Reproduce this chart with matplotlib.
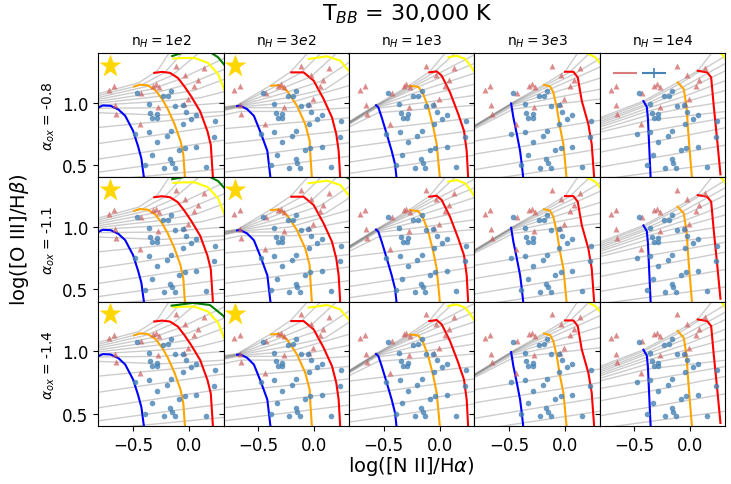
import numpy as np
import matplotlib
matplotlib.use('Agg')
import matplotlib.pyplot as plt
from matplotlib.lines import Line2D

# panel layout
densities = ['1e2', '3e2', '1e3', '3e3', '1e4']
alpha_ox = ['-0.8', '-1.1', '-1.4']

# observed galaxies (blue dots) and red triangles, same in every panel
obs_x = [-0.462, -0.235, -0.190, -0.161, -0.360, -0.123, -0.056, -0.346, -0.286, -0.328,
         -0.289, -0.027, 0.020, 0.065, -0.051, -0.161, -0.357, -0.480, -0.199, -0.286,
         0.065, -0.039, -0.087, -0.167, -0.152, -0.128, -0.223, -0.390, 0.149, 0.226,
         0.235, -0.333]
obs_y = [1.077, 1.053, 1.058, 1.098, 0.989, 0.975, 0.981, 0.921, 0.908, 0.881,
         0.881, 0.927, 0.873, 0.900, 0.832, 0.776, 0.768, 0.752, 0.733, 0.685,
         0.647, 0.639, 0.618, 0.545, 0.515, 0.477, 0.477, 0.497, 0.483, 0.723,
         0.849, 0.583]
tri_x = [-0.714, -0.667, -0.661, -0.652, -0.440, -0.429, -0.322, -0.297, -0.268, -0.274,
         -0.119, -0.033, -0.009, -0.048, 0.047, 0.080, 0.131]
tri_y = [1.106, 1.134, 0.981, 0.913, 0.827, 1.082, 1.136, 1.147, 1.123, 0.967,
         1.298, 1.223, 1.026, 0.989, 1.131, 1.179, 1.276]
star_x, star_y = -0.706, 1.298

# iso-metallicity tracks, one list per density column
blue_x = [[-0.80, -0.77, -0.70, -0.63, -0.57, -0.50, -0.455, -0.425, -0.40],
          [-0.69, -0.661, -0.60, -0.54, -0.48, -0.42, -0.39],
          [-0.569, -0.548, -0.518, -0.473, -0.429, -0.399, -0.384],
          [-0.482, -0.462, -0.431, -0.402, -0.387, -0.372],
          [-0.42, -0.39, -0.38, -0.369, -0.355]]
blue_y = [[0.965, 0.978, 0.975, 0.945, 0.895, 0.775, 0.65, 0.55, 0.38],
          [0.973, 0.975, 0.948, 0.894, 0.76, 0.612, 0.38],
          [0.98, 0.962, 0.881, 0.747, 0.612, 0.505, 0.38],
          [0.994, 0.881, 0.747, 0.612, 0.505, 0.38],
          [1.013, 0.967, 0.873, 0.658, 0.38]]
orange_x = [[-0.49, -0.44, -0.37, -0.30, -0.24, -0.19, -0.13, -0.075, -0.05, -0.035],
            [-0.387, -0.319, -0.244, -0.155, -0.081, -0.042, -0.036, -0.021],
            [-0.265, -0.191, -0.147, -0.102, -0.057, -0.027, 0.003],
            [-0.188, -0.134, -0.105, -0.074, -0.045, -0.015, 0.015],
            [-0.114, -0.06, -0.036, -0.015, 0.015]]
orange_y = [[1.13, 1.145, 1.14, 1.10, 1.03, 0.95, 0.83, 0.69, 0.58, 0.38],
            [1.136, 1.142, 1.096, 0.975, 0.827, 0.693, 0.585, 0.38],
            [1.136, 1.128, 1.069, 0.962, 0.80, 0.666, 0.38],
            [1.144, 1.131, 1.083, 0.962, 0.80, 0.666, 0.38],
            [1.164, 1.11, 0.975, 0.706, 0.38]]
red_x = [[-0.31, -0.24, -0.17, -0.10, -0.04, 0.02, 0.10, 0.165, 0.195, 0.215],
         [-0.206, -0.096, -0.006, 0.083, 0.158, 0.196, 0.217, 0.232],
         [-0.093, -0.027, 0.018, 0.092, 0.166, 0.217, 0.241, 0.255],
         [0.0, 0.074, 0.113, 0.149, 0.208, 0.238, 0.261],
         [0.065, 0.149, 0.185, 0.208, 0.238, 0.268]]
red_y = [[1.24, 1.248, 1.24, 1.20, 1.13, 1.05, 0.93, 0.77, 0.66, 0.38],
         [1.244, 1.244, 1.177, 1.029, 0.881, 0.747, 0.612, 0.38],
         [1.244, 1.252, 1.217, 1.083, 0.908, 0.773, 0.612, 0.38],
         [1.249, 1.249, 1.204, 1.015, 0.827, 0.666, 0.38],
         [1.257, 1.244, 1.204, 0.975, 0.706, 0.424]]
yellow_x = [[-0.14, -0.05, 0.05, 0.17, 0.26, 0.30, 0.34],
            [-0.051, 0.113, 0.232, 0.306, 0.34],
            [0.077, 0.152, 0.226, 0.264, 0.33],
            [0.15, 0.21, 0.27, 0.33],
            [0.26, 0.30, 0.34]]
yellow_y = [[1.355, 1.36, 1.36, 1.32, 1.23, 1.14, 1.05],
            [1.352, 1.373, 1.338, 1.257, 1.20],
            [1.365, 1.378, 1.352, 1.311, 1.22],
            [1.42, 1.392, 1.365, 1.30],
            [1.41, 1.37, 1.30]]
# green track: only reaches the first two columns, differs by row
green_x = {(0, 0): [-0.15, 0.0, 0.15, 0.26, 0.32],
           (1, 0): [-0.15, 0.0, 0.15, 0.26, 0.32],
           (2, 0): [-0.155, 0.038, 0.187, 0.306, 0.34],
           (0, 1): [0.12, 0.24, 0.32, 0.36],
           (1, 1): [0.12, 0.24, 0.32, 0.36],
           (2, 1): [0.14, 0.26, 0.34, 0.38]}
green_y = {(0, 0): [1.375, 1.42, 1.43, 1.365, 1.30],
           (1, 0): [1.385, 1.41, 1.42, 1.37, 1.31],
           (2, 0): [1.368, 1.39, 1.373, 1.287, 1.25],
           (0, 1): [1.45, 1.43, 1.39, 1.33],
           (1, 1): [1.44, 1.42, 1.385, 1.33],
           (2, 1): [1.45, 1.43, 1.39, 1.33]}

# iso-U grid lines per density column
gray_1e2 = [([-0.82, -0.45, -0.28, -0.17], [1.07, 1.16, 1.26, 1.41]),
            ([-0.82, -0.42, -0.22, -0.05], [1.055, 1.145, 1.24, 1.41]),
            ([-0.82, -0.38, -0.15, 0.10], [1.04, 1.13, 1.22, 1.41]),
            ([-0.82, -0.33, -0.08, 0.32], [1.025, 1.11, 1.19, 1.36]),
            ([-0.82, -0.30, 0.00, 0.32], [1.01, 1.08, 1.15, 1.27]),
            ([-0.82, -0.28, 0.05, 0.32], [0.995, 1.05, 1.10, 1.19]),
            ([-0.82, -0.27, 0.10, 0.32], [0.98, 1.01, 1.04, 1.09]),
            ([-0.82, -0.25, 0.32], [0.955, 0.96, 1.00]),
            ([-0.82, -0.25, 0.32], [0.92, 0.90, 0.93]),
            ([-0.82, 0.32], [0.80, 0.90]),
            ([-0.82, 0.32], [0.67, 0.82]),
            ([-0.82, 0.32], [0.545, 0.70]),
            ([-0.82, 0.32], [0.44, 0.58]),
            ([-0.60, 0.32], [0.39, 0.47])]
gray_3e2 = [([-0.82, -0.69, -0.39, -0.21, -0.05], [0.965, 0.98, 1.14, 1.25, 1.41]),
            ([-0.82, -0.69, -0.35, -0.12, 0.07], [0.96, 0.978, 1.13, 1.24, 1.41]),
            ([-0.82, -0.69, -0.30, -0.03, 0.20], [0.955, 0.975, 1.11, 1.21, 1.40]),
            ([-0.82, -0.69, -0.26, 0.05, 0.32], [0.95, 0.972, 1.08, 1.17, 1.33]),
            ([-0.82, -0.69, -0.24, 0.10, 0.32], [0.945, 0.97, 1.04, 1.11, 1.24]),
            ([-0.82, -0.69, -0.22, 0.32], [0.94, 0.965, 1.0, 1.14]),
            ([-0.82, -0.69, -0.20, 0.32], [0.935, 0.96, 0.96, 1.05]),
            ([-0.82, -0.66, -0.18, 0.32], [0.90, 0.93, 0.93, 0.96]),
            ([-0.82, 0.32], [0.79, 0.88]),
            ([-0.82, 0.32], [0.67, 0.78]),
            ([-0.82, 0.32], [0.545, 0.68]),
            ([-0.82, 0.32], [0.44, 0.57])]
gray_1e3 = [([-0.82, -0.57, -0.27, -0.09, 0.06], [0.84, 0.98, 1.14, 1.25, 1.41]),
            ([-0.82, -0.57, -0.25, -0.05, 0.15], [0.838, 0.978, 1.135, 1.245, 1.41]),
            ([-0.82, -0.57, -0.23, 0.0, 0.32], [0.835, 0.975, 1.13, 1.24, 1.39]),
            ([-0.82, -0.57, -0.21, 0.05, 0.32], [0.832, 0.972, 1.12, 1.22, 1.32]),
            ([-0.82, -0.57, -0.19, 0.32], [0.83, 0.968, 1.09, 1.24]),
            ([-0.82, -0.57, -0.17, 0.32], [0.826, 0.963, 1.05, 1.15]),
            ([-0.82, -0.57, -0.15, 0.32], [0.82, 0.955, 1.0, 1.06]),
            ([-0.82, -0.55, -0.12, 0.32], [0.80, 0.92, 0.95, 0.98]),
            ([-0.82, 0.32], [0.76, 0.88]),
            ([-0.82, 0.32], [0.64, 0.78]),
            ([-0.82, 0.32], [0.52, 0.68]),
            ([-0.82, 0.32], [0.43, 0.58])]
gray_3e3 = [([-0.82, -0.48, -0.19, 0.0, 0.12], [0.81, 0.995, 1.145, 1.25, 1.41]),
            ([-0.82, -0.48, -0.17, 0.04, 0.22], [0.808, 0.993, 1.14, 1.245, 1.40]),
            ([-0.82, -0.48, -0.15, 0.08, 0.32], [0.806, 0.99, 1.13, 1.23, 1.36]),
            ([-0.82, -0.48, -0.13, 0.32], [0.803, 0.985, 1.11, 1.29]),
            ([-0.82, -0.48, -0.11, 0.32], [0.80, 0.98, 1.08, 1.20]),
            ([-0.82, -0.47, -0.09, 0.32], [0.795, 0.97, 1.04, 1.11]),
            ([-0.82, -0.46, -0.07, 0.32], [0.785, 0.95, 0.99, 1.03]),
            ([-0.82, 0.32], [0.69, 0.86]),
            ([-0.82, 0.32], [0.585, 0.75]),
            ([-0.82, 0.32], [0.46, 0.63]),
            ([-0.70, 0.32], [0.38, 0.52])]
gray_1e4 = [([-0.82, -0.42, -0.11, 0.065, 0.20], [0.875, 1.013, 1.165, 1.257, 1.41]),
            ([-0.82, -0.42, -0.10, 0.08, 0.32], [0.86, 1.0, 1.15, 1.25, 1.38]),
            ([-0.82, -0.41, -0.08, 0.32], [0.845, 0.985, 1.12, 1.32]),
            ([-0.82, -0.41, -0.07, 0.32], [0.83, 0.97, 1.09, 1.26]),
            ([-0.82, -0.40, -0.06, 0.32], [0.815, 0.95, 1.05, 1.18]),
            ([-0.82, -0.39, -0.04, 0.32], [0.80, 0.93, 1.01, 1.10]),
            ([-0.82, -0.38, -0.03, 0.32], [0.78, 0.90, 0.96, 1.01]),
            ([-0.82, -0.37, 0.32], [0.76, 0.86, 0.93]),
            ([-0.82, 0.32], [0.70, 0.88]),
            ([-0.82, 0.32], [0.60, 0.80]),
            ([-0.82, 0.32], [0.48, 0.66]),
            ([-0.82, 0.32], [0.38, 0.52])]
gray_lines = [gray_1e2, gray_3e2, gray_1e3, gray_3e3, gray_1e4]

fig, axes = plt.subplots(3, 5, figsize=(7.31, 4.85), dpi=100, sharex=True, sharey=True)
fig.subplots_adjust(left=0.1345, right=0.992, top=0.8887, bottom=0.1196, wspace=0, hspace=0)

for r in range(3):
    for c in range(5):
        ax = axes[r, c]
        for gx, gy in gray_lines[c]:
            ax.plot(gx, gy, color='gray', alpha=0.4, lw=1, zorder=1)
        ax.plot(blue_x[c], blue_y[c], color='blue', lw=1.5, zorder=2)
        ax.plot(orange_x[c], orange_y[c], color='orange', lw=1.5, zorder=2)
        ax.plot(red_x[c], red_y[c], color='red', lw=1.5, zorder=2)
        ax.plot(yellow_x[c], yellow_y[c], color='yellow', lw=1.5, zorder=2)
        if (r, c) in green_x:
            ax.plot(green_x[(r, c)], green_y[(r, c)], color='green', lw=1.5, zorder=2)
        ax.plot(tri_x, tri_y, '^', color='indianred', alpha=0.7, ms=4, mec='none', zorder=3)
        ax.plot(obs_x, obs_y, 'o', color='steelblue', alpha=0.8, ms=4, mec='none', zorder=3)
        if c < 2:
            ax.plot(star_x, star_y, '*', color='gold', ms=17, mec='none', zorder=4)
        ax.set_xlim(-0.81, 0.31)
        ax.set_ylim(0.4, 1.4)
        ax.set_xticks([-0.5, 0.0])
        ax.set_yticks([0.5, 1.0])
        ax.tick_params(labelsize=12)
        if r == 0:
            ax.set_title(r'n$_H = %s$' % densities[c], fontsize=10)
        if c == 0:
            ax.set_ylabel(r'$\alpha_{ox}$ = %s' % alpha_ox[r], fontsize=10)
        if r == 0 and c == 4:
            h1 = Line2D([], [], color='indianred', alpha=0.8, lw=1.5)
            h2 = Line2D([], [], color='steelblue', lw=1.5, marker='|', ms=7, mew=1.2)
            ax.legend([h1, h2], ['', ''], loc='upper left', ncol=2, frameon=False,
                      handlelength=1.6, handletextpad=0.0, columnspacing=0.5,
                      borderaxespad=0.6)

fig.text(0.557, 0.97, r'T$_{BB}$ = 30,000 K', ha='center', va='center', fontsize=16)
fig.text(0.563, 0.039, r'log([N II]/H$\alpha$)', ha='center', va='center', fontsize=14)
fig.text(0.027, 0.505, r'log([O III]/H$\beta$)', ha='center', va='center', rotation=90, fontsize=14)

fig.savefig('out.png', dpi=100)
